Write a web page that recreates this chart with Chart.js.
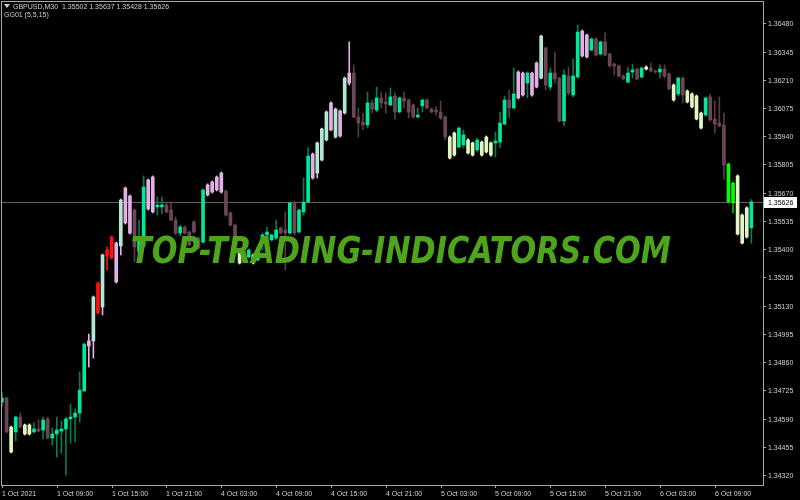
<!DOCTYPE html>
<html>
<head>
<meta charset="utf-8">
<script src="https://cdn.jsdelivr.net/npm/chart.js"></script>
<style>
  html, body { margin: 0; padding: 0; background: #000; }
  canvas { display: block; }
</style>
</head>
<body>
<canvas id="chart" width="800" height="500"></canvas>
<script>
const symbolTitle = "GBPUSD,M30";
const lastBar = ["1.35502", "1.35637", "1.35428", "1.35626"];
const indicatorTitle = "GG01 (5,5,15)";
const watermark = "TOP-TRADING-INDICATORS.COM";
const bidPrice = 1.35626;

// M30 bars, the first one is 1 Oct 2021 03:00
const opens = [
  1.34669, 1.34688, 1.34549, 1.34526, 1.34597, 1.34516, 1.34559, 1.34526, 1.34540, 1.34535,
  1.34588, 1.34497, 1.34516, 1.34530, 1.34540, 1.34588, 1.34597, 1.34616, 1.34722, 1.34937,
  1.34961, 1.35238, 1.35123, 1.35396, 1.35458, 1.35243, 1.35415, 1.35525, 1.35477, 1.35587,
  1.35386, 1.35415, 1.35592, 1.35578, 1.35602, 1.35602, 1.35611, 1.35587, 1.35539, 1.35477,
  1.35506, 1.35482, 1.35530, 1.35453, 1.35434, 1.35659, 1.35673, 1.35683, 1.35673, 1.35678,
  1.35573, 1.35515, 1.35382, 1.35429, 1.35362, 1.35372, 1.35348, 1.35429, 1.35468, 1.35444,
  1.35453, 1.35501, 1.35492, 1.35477, 1.35621, 1.35482, 1.35578, 1.35625, 1.35740, 1.35764,
  1.35826, 1.35922, 1.35970, 1.35936, 1.35941, 1.36051, 1.36194, 1.36242, 1.36032, 1.36008,
  1.35994, 1.36099, 1.36065, 1.36123, 1.36104, 1.36089, 1.36132, 1.36056, 1.36123, 1.36113,
  1.36089, 1.36032, 1.36085, 1.36113, 1.36070, 1.36065, 1.36056, 1.36032, 1.35936, 1.35850,
  1.35888, 1.35898, 1.35922, 1.35908, 1.35874, 1.35912, 1.35865, 1.35908, 1.35908, 1.35912,
  1.35998, 1.36113, 1.36075, 1.36123, 1.36137, 1.36194, 1.36137, 1.36175, 1.36218, 1.36362,
  1.36175, 1.36242, 1.36218, 1.36013, 1.36228, 1.36137, 1.36223, 1.36324, 1.36319, 1.36352,
  1.36405, 1.36333, 1.36391, 1.36333, 1.36285, 1.36276, 1.36228, 1.36199, 1.36247, 1.36261,
  1.36223, 1.36261, 1.36266, 1.36252, 1.36247, 1.36261, 1.36238, 1.36185, 1.36142, 1.36218,
  1.36156, 1.36142, 1.36132, 1.36051, 1.36041, 1.36128, 1.36022, 1.36003, 1.35994, 1.35807,
  1.35716, 1.35750, 1.35563, 1.35458, 1.35502
];
const highs = [
  1.34717, 1.34693, 1.34554, 1.34602, 1.34616, 1.34564, 1.34564, 1.34569, 1.34583, 1.34597,
  1.34597, 1.34545, 1.34597, 1.34578, 1.34597, 1.34659, 1.34636, 1.34813, 1.34951, 1.34994,
  1.35176, 1.35243, 1.35377, 1.35410, 1.35463, 1.35434, 1.35640, 1.35697, 1.35659, 1.35592,
  1.35539, 1.35750, 1.35735, 1.35750, 1.35649, 1.35649, 1.35621, 1.35621, 1.35554, 1.35515,
  1.35511, 1.35487, 1.35535, 1.35458, 1.35688, 1.35712, 1.35726, 1.35750, 1.35769, 1.35683,
  1.35578, 1.35520, 1.35386, 1.35434, 1.35401, 1.35377, 1.35410, 1.35477, 1.35506, 1.35472,
  1.35539, 1.35506, 1.35578, 1.35625, 1.35630, 1.35592, 1.35740, 1.35884, 1.35860, 1.35912,
  1.35979, 1.36061, 1.36104, 1.36075, 1.36065, 1.36223, 1.36391, 1.36281, 1.36075, 1.36051,
  1.36151, 1.36113, 1.36175, 1.36151, 1.36147, 1.36171, 1.36147, 1.36128, 1.36151, 1.36118,
  1.36094, 1.36075, 1.36118, 1.36118, 1.36075, 1.36080, 1.36108, 1.36037, 1.35941, 1.35960,
  1.35984, 1.35970, 1.35927, 1.35912, 1.35931, 1.35917, 1.35941, 1.35912, 1.35960, 1.36056,
  1.36132, 1.36161, 1.36266, 1.36252, 1.36247, 1.36247, 1.36247, 1.36295, 1.36424, 1.36367,
  1.36266, 1.36343, 1.36223, 1.36257, 1.36271, 1.36309, 1.36472, 1.36448, 1.36429, 1.36410,
  1.36410, 1.36395, 1.36434, 1.36338, 1.36290, 1.36281, 1.36233, 1.36271, 1.36285, 1.36266,
  1.36271, 1.36276, 1.36290, 1.36257, 1.36281, 1.36281, 1.36242, 1.36190, 1.36223, 1.36223,
  1.36161, 1.36147, 1.36137, 1.36056, 1.36128, 1.36142, 1.36108, 1.36128, 1.36051, 1.35812,
  1.35721, 1.35755, 1.35568, 1.35602, 1.35637
];
const lows = [
  1.34645, 1.34521, 1.34425, 1.34483, 1.34545, 1.34511, 1.34511, 1.34521, 1.34526, 1.34492,
  1.34492, 1.34463, 1.34406, 1.34425, 1.34320, 1.34473, 1.34478, 1.34573, 1.34717, 1.34836,
  1.34879, 1.35090, 1.35085, 1.35300, 1.35353, 1.35238, 1.35372, 1.35520, 1.35472, 1.35339,
  1.35382, 1.35410, 1.35587, 1.35573, 1.35563, 1.35568, 1.35573, 1.35535, 1.35468, 1.35463,
  1.35472, 1.35415, 1.35477, 1.35401, 1.35429, 1.35654, 1.35668, 1.35678, 1.35668, 1.35558,
  1.35511, 1.35453, 1.35329, 1.35367, 1.35358, 1.35329, 1.35343, 1.35396, 1.35444, 1.35439,
  1.35444, 1.35472, 1.35300, 1.35472, 1.35468, 1.35477, 1.35563, 1.35621, 1.35735, 1.35740,
  1.35822, 1.35917, 1.35965, 1.35931, 1.35936, 1.36046, 1.36185, 1.36027, 1.35936, 1.35970,
  1.35979, 1.36051, 1.36056, 1.36075, 1.36051, 1.36085, 1.36022, 1.36051, 1.36075, 1.36027,
  1.36027, 1.36027, 1.36056, 1.36070, 1.36051, 1.36041, 1.36018, 1.35922, 1.35831, 1.35845,
  1.35884, 1.35884, 1.35855, 1.35845, 1.35865, 1.35845, 1.35860, 1.35845, 1.35841, 1.35884,
  1.35994, 1.36027, 1.36070, 1.36118, 1.36132, 1.36123, 1.36132, 1.36171, 1.36214, 1.36161,
  1.36161, 1.36194, 1.36008, 1.35989, 1.36137, 1.36128, 1.36218, 1.36319, 1.36314, 1.36348,
  1.36324, 1.36328, 1.36324, 1.36271, 1.36233, 1.36223, 1.36209, 1.36194, 1.36218, 1.36209,
  1.36218, 1.36257, 1.36247, 1.36242, 1.36218, 1.36218, 1.36161, 1.36108, 1.36132, 1.36099,
  1.36099, 1.36075, 1.36018, 1.35975, 1.36037, 1.36013, 1.35955, 1.35984, 1.35735, 1.35621,
  1.35573, 1.35468, 1.35425, 1.35453, 1.35428
];
const closes = [
  1.34688, 1.34526, 1.34430, 1.34597, 1.34549, 1.34559, 1.34516, 1.34540, 1.34530, 1.34583,
  1.34497, 1.34516, 1.34535, 1.34540, 1.34588, 1.34597, 1.34616, 1.34726, 1.34946, 1.34961,
  1.35171, 1.35095, 1.35372, 1.35367, 1.35358, 1.35429, 1.35635, 1.35692, 1.35654, 1.35410,
  1.35458, 1.35697, 1.35731, 1.35745, 1.35611, 1.35611, 1.35578, 1.35539, 1.35477, 1.35506,
  1.35477, 1.35420, 1.35482, 1.35405, 1.35683, 1.35707, 1.35721, 1.35745, 1.35764, 1.35563,
  1.35515, 1.35458, 1.35334, 1.35372, 1.35396, 1.35334, 1.35405, 1.35468, 1.35482, 1.35468,
  1.35492, 1.35477, 1.35477, 1.35621, 1.35477, 1.35587, 1.35625, 1.35845, 1.35855, 1.35908,
  1.35975, 1.36056, 1.36099, 1.36070, 1.36061, 1.36218, 1.36242, 1.36032, 1.36003, 1.35994,
  1.36099, 1.36070, 1.36123, 1.36099, 1.36094, 1.36128, 1.36056, 1.36123, 1.36108, 1.36056,
  1.36032, 1.36041, 1.36113, 1.36075, 1.36056, 1.36056, 1.36027, 1.35936, 1.35836, 1.35955,
  1.35979, 1.35946, 1.35860, 1.35850, 1.35922, 1.35850, 1.35936, 1.35850, 1.35917, 1.36003,
  1.36113, 1.36075, 1.36142, 1.36247, 1.36242, 1.36242, 1.36242, 1.36290, 1.36419, 1.36185,
  1.36242, 1.36214, 1.36013, 1.36233, 1.36147, 1.36228, 1.36438, 1.36443, 1.36424, 1.36405,
  1.36328, 1.36391, 1.36328, 1.36276, 1.36276, 1.36228, 1.36214, 1.36242, 1.36257, 1.36214,
  1.36266, 1.36271, 1.36252, 1.36247, 1.36261, 1.36228, 1.36166, 1.36113, 1.36218, 1.36137,
  1.36104, 1.36080, 1.36022, 1.35979, 1.36123, 1.36018, 1.35998, 1.35989, 1.35802, 1.35625,
  1.35621, 1.35472, 1.35429, 1.35597, 1.35626
];
// GG01 state per bar: g up, m down, l flat, p strong up, w up/strong, r warning, G drop
const barStates = (
  "gmlgmllgmg" + "mggggggggp" + "wrwrrpwppm" + "ggppggmmmg" + "mmmmgppppm" +
  "mmlmglgggg" + "gmmgmgggpw" + "wwpwpwpmmm" + "gmgmmgmgmm" + "mggmmmmmll" +
  "ggllglllgg" + "gmgppgppwm" + "gmmgmggppg" + "mgmmmmmggm" + "glmmgmmlgm" +
  "llllgmmmmG" + "Glllg"
).split("");

const timeLabels = [
  "1 Oct 2021", "1 Oct 09:00", "1 Oct 15:00", "1 Oct 21:00", "4 Oct 03:00", "4 Oct 09:00", "4 Oct 15:00",
  "4 Oct 21:00", "5 Oct 03:00", "5 Oct 09:00", "5 Oct 15:00", "5 Oct 21:00", "6 Oct 03:00", "6 Oct 09:00"
];
const timeLabelBars = [0, 12, 24, 36, 48, 60, 72, 84, 96, 108, 120, 132, 144, 156];
const priceTicks = [
  1.34320, 1.34455, 1.34590, 1.34725, 1.34860, 1.34995, 1.35130, 1.35265, 1.35400,
  1.35535, 1.35670, 1.35805, 1.35940, 1.36075, 1.36210, 1.36345, 1.36480
];

const bodyColors = { g: "#00e89c", m: "#6b4658", l: "#e4f4c4", p: "#e2b0e2", w: "#b4e6d6", r: "#ff1010", G: "#00ff00" };
const wickColors = { g: "#0a7a50", m: "#5a3a4a", l: "#e4f4c4", p: "#e2b0e2", w: "#e2b0e2", r: "#ff1010", G: "#00c000" };

const textColor = "#d0d0d0";
const frameColor = "#a8a8a8";
const smallFont = '7px "Liberation Sans", Arial, sans-serif';

const mt4Look = {
  id: "mt4Look",
  beforeDatasetsDraw(chart) {
    const { ctx, chartArea: a, scales: { y } } = chart;
    const py = Math.round(y.getPixelForValue(bidPrice)) + 0.5;
    ctx.save();
    ctx.strokeStyle = "#6e5a64";
    ctx.lineWidth = 1;
    ctx.beginPath();
    ctx.moveTo(a.left, py);
    ctx.lineTo(a.right, py);
    ctx.stroke();
    ctx.restore();
  },
  afterDraw(chart) {
    const { ctx, chartArea: a, scales: { x, y } } = chart;
    ctx.save();

    // watermark text object
    ctx.font = 'bold italic 37px "DejaVu Sans", sans-serif';
    const w = ctx.measureText(watermark).width;
    ctx.save();
    ctx.translate(131, 263);
    ctx.scale(540 / w, 1);
    ctx.fillStyle = "#4ea51c";
    ctx.fillText(watermark, 0, 0);
    ctx.restore();

    // frame
    ctx.strokeStyle = frameColor;
    ctx.lineWidth = 1;
    ctx.strokeRect(a.left + 0.5, a.top + 0.5, a.right - a.left, a.bottom - a.top);

    ctx.font = smallFont;
    ctx.fillStyle = textColor;
    ctx.textBaseline = "alphabetic";

    // price scale
    priceTicks.forEach((p) => {
      const py = Math.round(y.getPixelForValue(p)) + 0.5;
      ctx.beginPath();
      ctx.moveTo(a.right, py);
      ctx.lineTo(a.right + 3, py);
      ctx.stroke();
      ctx.fillText(p.toFixed(5), a.right + 5, py + 2.5);
    });

    // time scale
    timeLabels.forEach((t, k) => {
      const px = Math.round(x.getPixelForValue(timeLabelBars[k])) + 0.5;
      ctx.beginPath();
      ctx.moveTo(px, a.bottom);
      ctx.lineTo(px, a.bottom + 3);
      ctx.stroke();
      ctx.fillText(t, px - 0.5, 495.5);
    });

    // bid label
    const by = Math.round(y.getPixelForValue(bidPrice));
    ctx.fillStyle = "#ffffff";
    ctx.fillRect(a.right + 1, by - 5, 33, 11);
    ctx.fillStyle = "#000000";
    ctx.fillText(bidPrice.toFixed(5), a.right + 5, by + 3);

    // header
    ctx.fillStyle = textColor;
    ctx.beginPath();
    ctx.moveTo(4, 4);
    ctx.lineTo(10, 4);
    ctx.lineTo(7, 8);
    ctx.closePath();
    ctx.fill();
    ctx.fillText(symbolTitle + "  " + lastBar.join(" "), 13, 9);
    ctx.fillText(indicatorTitle, 4, 17);

    ctx.restore();
  }
};

new Chart(document.getElementById("chart"), {
  type: "bar",
  data: {
    datasets: [
      {
        label: "body",
        data: opens.map((o, i) => ({ x: i, y: [o, closes[i]] })),
        backgroundColor: barStates.map((s) => bodyColors[s]),
        grouped: false,
        barPercentage: 1,
        categoryPercentage: 1,
        maxBarThickness: 3,
        order: 1
      },
      {
        label: "wick",
        data: lows.map((l, i) => ({ x: i, y: [l, highs[i]] })),
        backgroundColor: barStates.map((s) => wickColors[s]),
        grouped: false,
        barPercentage: 1,
        categoryPercentage: 1,
        maxBarThickness: 1,
        order: 2
      }
    ]
  },
  options: {
    responsive: false,
    animation: false,
    devicePixelRatio: 1,
    layout: { padding: { left: 1, top: 1, right: 37, bottom: 15 } },
    plugins: { legend: { display: false }, tooltip: { enabled: false } },
    scales: {
      x: { type: "linear", display: false, offset: false, min: -0.219, max: 166.557 },
      y: { type: "linear", display: false, min: 1.342721, max: 1.365866 }
    }
  },
  plugins: [mt4Look]
});
</script>
</body>
</html>
